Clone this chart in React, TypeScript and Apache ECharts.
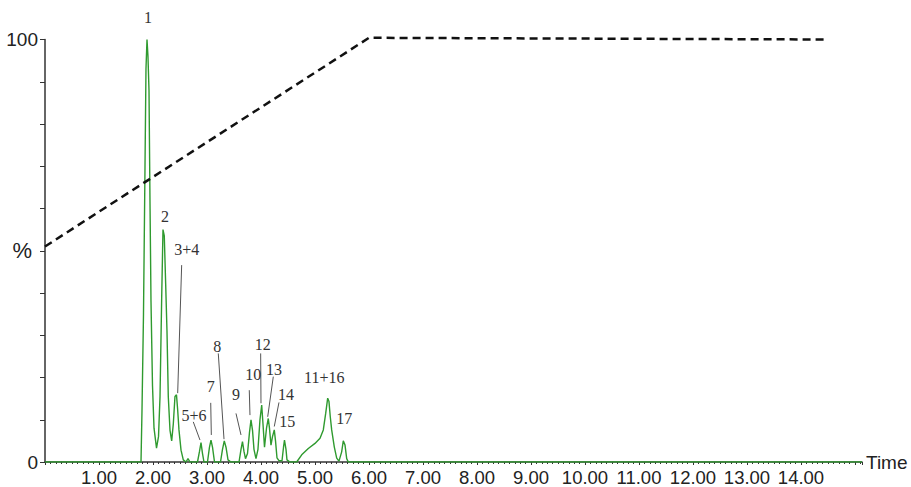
import React, { useEffect, useRef } from 'react';
import * as echarts from 'echarts';

// Chromatogram trace (retention time in min, relative intensity in %)
const traceTime = [
  0, 1.778, 1.796, 1.824, 1.852, 1.87, 1.889, 1.907, 1.926, 1.944, 1.963, 1.991, 2.019, 2.065,
  2.102, 2.13, 2.161, 2.185, 2.209, 2.235, 2.259, 2.283, 2.315, 2.346,
  2.376, 2.407, 2.435, 2.457, 2.481, 2.519, 2.561, 2.611, 2.648, 2.685,
  2.824, 2.861, 2.889, 2.917, 2.944,
  3.009, 3.046, 3.074, 3.102, 3.139,
  3.25, 3.287, 3.32, 3.352, 3.389, 3.444,
  3.593, 3.63, 3.657, 3.685, 3.713,
  3.75, 3.787, 3.815, 3.843, 3.87, 3.907,
  3.944, 3.981, 4.013, 4.037, 4.065,
  4.102, 4.135, 4.157, 4.185,
  4.213, 4.246, 4.269, 4.296, 4.333,
  4.389, 4.417, 4.435, 4.463, 4.481, 4.537,
  4.661, 4.754, 4.876, 5.0, 5.093, 5.154, 5.198, 5.235, 5.259, 5.283, 5.309, 5.357, 5.402, 5.444,
  5.494, 5.524, 5.556, 5.587, 5.617, 15.13,
];
const traceIntensity = [
  0, 0, 12, 35, 70, 93, 100, 96, 88, 62, 38, 18, 8, 3.3,
  6, 15.5, 39, 55, 53.5, 42, 31, 15.5, 7.5, 5,
  9, 15.5, 15.9, 12.3, 7.6, 2.8, 0.5, 0, 0.8, 0,
  0, 2.5, 4.6, 2, 0,
  0, 3.5, 5.2, 3.5, 0,
  0, 3, 5, 3.5, 0.5, 0,
  0, 3, 4.8, 2.5, 0.8,
  2, 7, 10, 7.5, 3, 0.8,
  3, 10, 13.5, 9, 3.5,
  8, 10.3, 8, 4,
  6, 7.6, 5, 1, 0.3,
  0.3, 3.5, 5.2, 3, 0.5, 0,
  0, 1.7, 3.2, 4.4, 5.6, 7.6, 11.5, 15.1, 14.3, 10.7, 7.6, 3.6, 0.9, 0.2,
  2.4, 5.0, 4.0, 0.8, 0, 0,
];

// Gradient programme (dashed line), % organic
const gradientTime = [0, 6.0, 14.5];
const gradientPercent = [51, 100.4, 100];

// Axis
const xMin = 0;
const xMax = 15.13;
const xTickLabelValues = [1, 2, 3, 4, 5, 6, 7, 8, 9, 10, 11, 12, 13, 14];
const yTickLabelValues = [0, 100];

// Peak labels (data coordinates)
const peakLabels = ['1', '2', '3+4', '5+6', '7', '8', '9', '10', '12', '13', '14', '15', '11+16', '17'];
const peakLabelTime = [1.907, 2.222, 2.624, 2.759, 3.069, 3.191, 3.537, 3.857, 4.031, 4.241, 4.463, 4.487, 5.172, 5.543];
const peakLabelIntensity = [105.3, 58.0, 50.3, 10.9, 17.8, 27.3, 15.9, 20.6, 27.9, 21.8, 15.9, 9.5, 20.0, 10.2];

// Leader lines (data coordinates)
const leaderFromTime = [2.531, 2.746, 3.069, 3.209, 3.537, 3.783, 3.994, 4.228, 4.333];
const leaderFromIntensity = [46.6, 9.5, 14.0, 25.7, 11.5, 17.0, 25.7, 20.2, 14.1];
const leaderToTime = [2.457, 2.87, 3.08, 3.315, 3.63, 3.796, 4.0, 4.124, 4.246];
const leaderToIntensity = [16.3, 5.2, 6.4, 5.4, 6.4, 11.1, 13.9, 10.7, 8.4];

export default function App() {
  const ref = useRef<HTMLDivElement>(null);

  useEffect(() => {
    if (!ref.current) return;
    const chart = echarts.init(ref.current, null, { renderer: 'svg' });
    const sans = '"Liberation Sans", Arial, sans-serif';
    chart.setOption({
      animation: false,
      backgroundColor: '#ffffff',
      grid: { left: 45, right: 49, top: 39.5, bottom: 25, containLabel: false, outerBoundsMode: 'none' },
      xAxis: {
        type: 'value',
        min: xMin,
        max: xMax,
        interval: 1,
        name: 'Time',
        nameLocation: 'end',
        nameGap: 4,
        nameTextStyle: { fontFamily: sans, fontSize: 19, color: '#222', verticalAlign: 'middle' },
        axisLine: { show: true, onZero: false, lineStyle: { color: '#333', width: 1.5 } },
        axisTick: { show: true, length: 3, lineStyle: { color: '#333' } },
        minorTick: { show: true, splitNumber: 10, length: 2, lineStyle: { color: '#333' } },
        splitLine: { show: false },
        axisLabel: {
          fontFamily: sans,
          fontSize: 18.5,
          color: '#222',
          margin: 6,
          formatter: (v: number) => (xTickLabelValues.indexOf(Math.round(v)) >= 0 && Math.abs(v - Math.round(v)) < 1e-6 ? v.toFixed(2) : ''),
        },
      },
      yAxis: {
        type: 'value',
        min: 0,
        max: 100,
        interval: 10,
        name: '%',
        nameLocation: 'middle',
        nameRotate: 0,
        nameGap: 13,
        nameMoveOverlap: false,
        nameTextStyle: { fontFamily: sans, fontSize: 22, color: '#222', align: 'right', verticalAlign: 'middle' },
        axisLine: { show: true, lineStyle: { color: '#333', width: 1.5 } },
        axisTick: { show: true, length: 5, lineStyle: { color: '#333' } },
        splitLine: { show: false },
        axisLabel: {
          fontFamily: sans,
          fontSize: 19,
          color: '#222',
          margin: 7,
          formatter: (v: number) => (yTickLabelValues.indexOf(v) >= 0 ? String(v) : ''),
        },
      },
      series: [
        {
          type: 'line',
          data: traceTime.map((t, i) => [t, traceIntensity[i]]),
          showSymbol: false,
          symbol: 'none',
          lineStyle: { color: '#2f9a2f', width: 1.4 },
          z: 3,
        },
        {
          type: 'line',
          data: gradientTime.map((t, i) => [t, gradientPercent[i]]),
          showSymbol: false,
          symbol: 'none',
          clip: false,
          lineStyle: { color: '#111', width: 2.5, type: [8, 5] },
          z: 4,
        },
      ],
    });

    const px = (t: number, v: number) => chart.convertToPixel({ gridIndex: 0 }, [t, v]) as number[];
    const graphics: any[] = [];
    leaderFromTime.forEach((t, i) => {
      const a = px(t, leaderFromIntensity[i]);
      const b = px(leaderToTime[i], leaderToIntensity[i]);
      graphics.push({
        type: 'line',
        shape: { x1: a[0], y1: a[1], x2: b[0], y2: b[1] },
        style: { stroke: '#555', lineWidth: 1 },
        z: 10,
      });
    });
    peakLabels.forEach((lab, i) => {
      const p = px(peakLabelTime[i], peakLabelIntensity[i]);
      graphics.push({
        type: 'text',
        x: p[0],
        y: p[1],
        style: {
          text: lab,
          font: '16px "Liberation Serif", "Times New Roman", serif',
          fill: '#333',
          align: 'center',
          verticalAlign: 'middle',
          textAlign: 'center',
          textVerticalAlign: 'middle',
        },
        z: 10,
      });
    });
    chart.setOption({ graphic: graphics });

    return () => chart.dispose();
  }, []);

  return (
    <div
      ref={ref}
      style={{ position: 'fixed', left: 0, top: 0, width: 911, height: 487, background: '#fff' }}
    />
  );
}
